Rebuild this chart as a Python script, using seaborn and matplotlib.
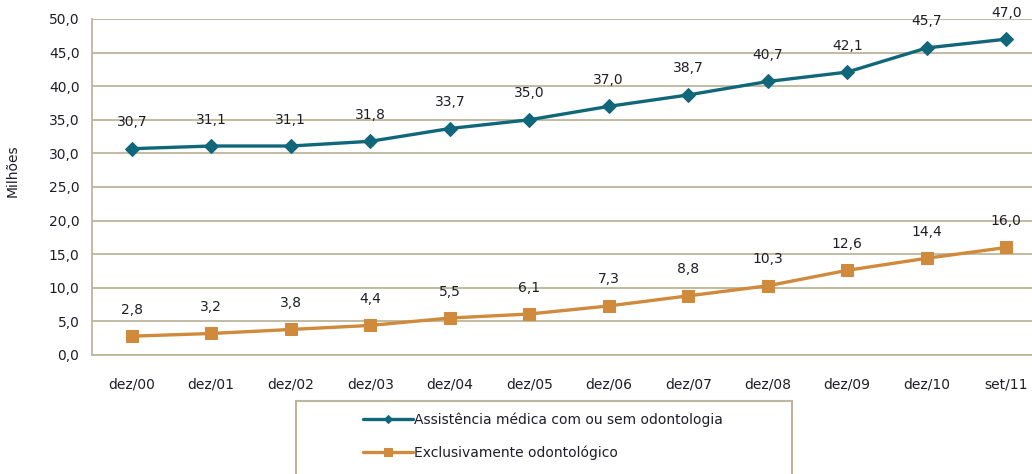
import numpy as np
import pandas as pd
import matplotlib
matplotlib.use("Agg")
import matplotlib.pyplot as plt
from matplotlib.patches import Rectangle
import seaborn as sns

##########################################################
# Data
##########################################################

periods = ["dez/00", "dez/01", "dez/02", "dez/03", "dez/04", "dez/05",
           "dez/06", "dez/07", "dez/08", "dez/09", "dez/10", "set/11"]

medica = [30.7, 31.1, 31.1, 31.8, 33.7, 35.0, 37.0, 38.7, 40.7, 42.1, 45.7, 47.0]
odonto = [2.8, 3.2, 3.8, 4.4, 5.5, 6.1, 7.3, 8.8, 10.3, 12.6, 14.4, 16.0]

series_names = ["Assistência médica com ou sem odontologia",
                "Exclusivamente odontológico"]

BLUE = "#11677A"
ORANGE = "#CF8A3C"
GRID = "#BDB59C"
TEXT = "#1E1E28"

##########################################################
# Figure
##########################################################

sns.set_style("white")
plt.rcParams["font.family"] = ["DejaVu Sans"]
plt.rcParams["font.size"] = 10

fig = plt.figure(figsize=(10.32, 4.74), dpi=100)
ax = fig.add_axes([92 / 1032, 1 - 355 / 474, 954 / 1032, 336 / 474])

x = np.arange(len(periods))

df = pd.DataFrame({
    "x": np.concatenate([x, x]),
    "value": medica + odonto,
    "serie": [series_names[0]] * len(x) + [series_names[1]] * len(x),
})

sns.lineplot(data=df[df.serie == series_names[0]], x="x", y="value",
             color=BLUE, linewidth=2.4, marker="D", markersize=7,
             markeredgecolor=BLUE, ax=ax, label=series_names[0])
sns.lineplot(data=df[df.serie == series_names[1]], x="x", y="value",
             color=ORANGE, linewidth=2.4, marker="s", markersize=8.5,
             markeredgecolor=ORANGE, ax=ax, label=series_names[1])

# value labels
for vals in [medica, odonto]:
    for xi, v in zip(x, vals):
        ax.annotate(f"{v:.1f}".replace(".", ","), (xi, v),
                    xytext=(0, 14), textcoords="offset points",
                    ha="center", va="bottom", fontsize=10, color=TEXT)

##########################################################
# Axes styling
##########################################################

ax.set_xlim(-0.5, 11.5)
ax.set_ylim(0, 50)
ax.set_yticks(np.arange(0, 50.1, 5))
ax.set_yticklabels([f"{v:.1f}".replace(".", ",") for v in np.arange(0, 50.1, 5)],
                   color=TEXT)
ax.set_xticks(x)
ax.set_xticklabels(periods, color=TEXT)
ax.set_xticks(np.arange(-0.5, 12, 1.0), minor=True)

ax.grid(axis="y", color=GRID, linewidth=1.3)
ax.set_axisbelow(True)
for s in ["top", "right"]:
    ax.spines[s].set_visible(False)
for s in ["left", "bottom"]:
    ax.spines[s].set_color(GRID)
    ax.spines[s].set_linewidth(1.3)

ax.tick_params(axis="x", which="both", direction="out", length=6,
               color=GRID, width=1.3, pad=10)
ax.tick_params(axis="y", direction="out", length=6, color=GRID,
               width=1.3, pad=3)

ax.set_xlabel("")
ax.set_ylabel("Milhões", color=TEXT, fontsize=10)
ax.yaxis.set_label_coords(-0.076, 0.55)

##########################################################
# Legend
##########################################################

ax.get_legend().remove()
handles, labels = ax.get_legend_handles_labels()

fig.patches.append(Rectangle((296 / 1032, -0.1), (792 - 296) / 1032,
                             (1 - 401 / 474) + 0.1,
                             transform=fig.transFigure, fill=False,
                             edgecolor=GRID, linewidth=1.5))

fig.legend(handles, labels, loc="upper left",
           bbox_to_anchor=(350 / 1032, 1 - 400 / 474),
           frameon=False, handlelength=3.6, handletextpad=0.1,
           labelspacing=1.35, fontsize=10, markerscale=0.6,
           labelcolor=TEXT)

fig.savefig("out.png", dpi=100)
